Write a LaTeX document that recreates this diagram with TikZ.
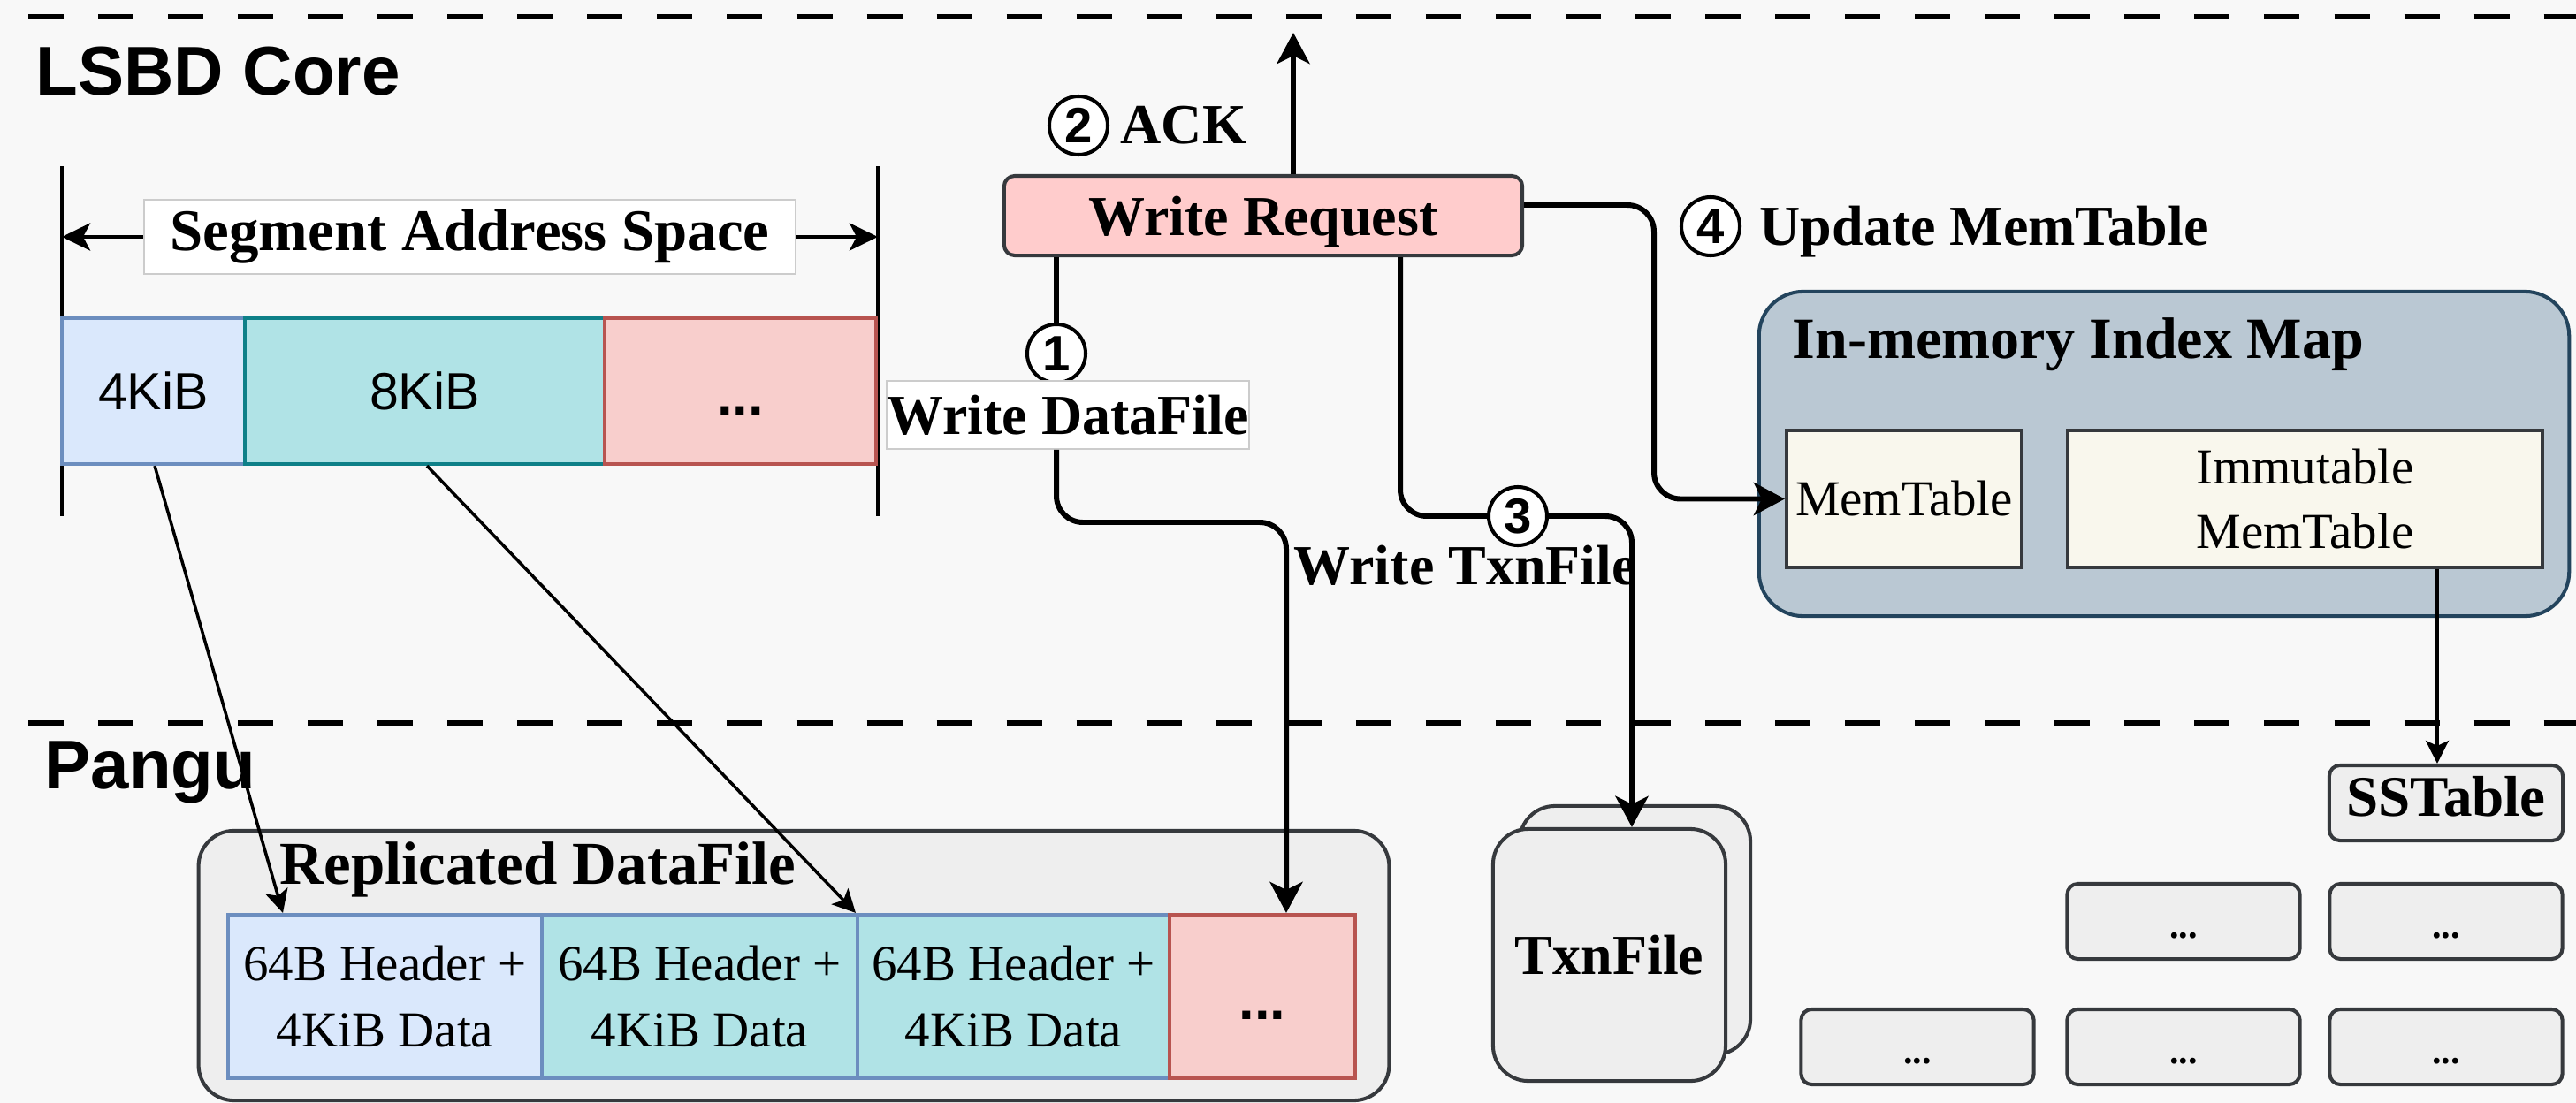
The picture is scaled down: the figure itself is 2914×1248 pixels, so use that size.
\documentclass[tikz,border=0pt]{standalone}
\usepackage{fontspec}
\setmainfont{Liberation Serif}
\newfontfamily\sansfam{Liberation Sans}
\usetikzlibrary{arrows.meta}

\definecolor{bg}{HTML}{F8F8F8}
\definecolor{blueF}{HTML}{DAE8FC}
\definecolor{blueD}{HTML}{6C8EBF}
\definecolor{tealF}{HTML}{B0E3E6}
\definecolor{tealD}{HTML}{0E8088}
\definecolor{redF}{HTML}{F8CECC}
\definecolor{redD}{HTML}{B85450}
\definecolor{pinkF}{HTML}{FFCCCC}
\definecolor{darkD}{HTML}{36393D}
\definecolor{grayF}{HTML}{EEEEEE}
\definecolor{slateF}{HTML}{BAC8D3}
\definecolor{slateD}{HTML}{23445D}
\definecolor{creamF}{HTML}{F9F7ED}
\definecolor{lblD}{HTML}{CCCCCC}

\tikzset{
  heading/.style={font=\sansfam\bfseries\fontsize{22.2pt}{26pt}\selectfont, inner sep=0, anchor=base west},
  blab/.style={font=\bfseries\fontsize{18.2pt}{21pt}\selectfont, inner sep=0},
  sepline/.style={line width=1.7pt, dash pattern=on 0.40cm off 0.39cm},
  bound/.style={line width=1.3pt},
  segcell/.style={line width=1.15pt, inner sep=0, minimum height=1.65cm,
    font=\sansfam\fontsize{16.8pt}{20pt}\selectfont},
  lblbox/.style={fill=white, draw=lblD, line width=0.45pt, inner sep=0,
    font=\bfseries\fontsize{19pt}{22pt}\selectfont},
  wire/.style={line width=1.7pt, rounded corners=0.3cm},
  flow/.style={wire, -{Stealth[length=0.35cm, width=0.37cm, inset=0.09cm]}},
  thinarr/.style={line width=1pt, -{Stealth[length=0.26cm, width=0.26cm, inset=0.06cm]}},
  segarr/.style={line width=1.3pt, -{Stealth[length=0.32cm, width=0.31cm, inset=0.08cm]}},
  num/.style={circle, draw, fill=white, line width=1.15pt, minimum size=0.66cm, inner sep=0,
    font=\sansfam\bfseries\fontsize{16pt}{18pt}\selectfont},
  gbox/.style={fill=grayF, draw=darkD, line width=1.15pt, inner sep=0},
  memcell/.style={fill=creamF, draw=darkD, line width=1.15pt, inner sep=0, minimum height=1.55cm,
    font=\fontsize{16.2pt}{20.5pt}\selectfont},
  repcell/.style={line width=1.15pt, inner sep=0, minimum height=1.85cm, align=center,
    font=\fontsize{16.2pt}{21.3pt}\selectfont},
  smallbox/.style={gbox, rounded corners=0.12cm, minimum width=2.63cm, minimum height=0.85cm,
    text height=0.38cm, text depth=0pt, font=\bfseries\fontsize{12pt}{14pt}\selectfont},
}

\begin{document}
\begin{tikzpicture}[x=0.01cm, y=-0.01cm]
\fill[bg] (0,0) rectangle (2914,1248);
\useasboundingbox (0,0) rectangle (2914,1248);

% layer separators and titles
\draw[sepline] (32,19) -- (2914,19);
\draw[sepline] (32,818) -- (2914,818);
\node[heading] (core) at (40,107) {LSBD Core};
\node[heading] (pangu) at (50,892) {Pangu};

% ---------- segment address space ----------
\coordinate (lt) at (70,188);  \coordinate (lb) at (70,584);
\coordinate (rt) at (993,188); \coordinate (rb) at (993,584);
\draw[bound] (lt) -- (lb);
\draw[bound] (rt) -- (rb);

\node[segcell, fill=blueF, draw=blueD, minimum width=2.07cm] (s4) at (173.5,442.5) {4KiB};
\node[segcell, fill=tealF, draw=tealD, minimum width=4.07cm] (s8) at (480.5,442.5) {8KiB};
\node[segcell, fill=redF, draw=redD, minimum width=3.07cm, text height=0.53cm, text depth=0pt,
  font=\sansfam\bfseries\fontsize{18pt}{20pt}\selectfont] (sd) at (837.5,442.5) {...};

\node[lblbox, minimum width=7.37cm, minimum height=0.84cm] (sas) at (531.5,268) {Segment Address Space};
\draw[segarr] (sas.west) -- (sas.west -| lt);
\draw[segarr] (sas.east) -- (sas.east -| rt);

% ---------- write request ----------
\node[blab, fill=pinkF, draw=darkD, line width=1.15pt, rounded corners=0.12cm,
  minimum width=5.86cm, minimum height=0.9cm, text depth=0pt] (wr) at (1429,244) {Write Request};

\node[num] (n2) at (1220,142) {2};
\node[blab, anchor=base west] (ack) at (1267,162) {ACK};

\node[num] (n1) at (1195,400) {1};
\node[lblbox, font=\bfseries\fontsize{18.2pt}{21pt}\selectfont,
  minimum width=4.10cm, minimum height=0.77cm] (wdf) at (1208,469.5) {Write DataFile};

\node[blab, anchor=base west] (wtx) at (1463,661) {Write TxnFile};
\node[num] (n3) at (1717,584) {3};

\node[num] (n4) at (1935,256) {4};
\node[blab, anchor=base west] (upd) at (1990,277) {Update MemTable};

% ---------- in-memory index map ----------
\node[fill=slateF, draw=slateD, line width=1.15pt, rounded corners=0.5cm, inner sep=0,
  minimum width=9.16cm, minimum height=3.67cm] (imap) at (2448,513.5) {};
\node[blab, font=\bfseries\fontsize{18.8pt}{22pt}\selectfont, anchor=base west] (imapt) at (2027,405) {In-memory Index Map};
\node[memcell, minimum width=2.66cm] (mem) at (2154,564.5) {MemTable};
\node[memcell, minimum width=5.37cm, align=center] (imm) at (2607.5,564.5) {Immutable\\MemTable};

% ---------- pangu: SSTables ----------
\node[gbox, rounded corners=0.12cm, minimum width=2.64cm, minimum height=0.85cm,
  text depth=0.16cm, font=\bfseries\fontsize{18.5pt}{22pt}\selectfont] (sst) at (2767,908.5) {SSTable};
\node[smallbox] (l1a) at (2470,1042.5) {...};
\node[smallbox] (l1b) at (2767,1042.5) {...};
\node[smallbox] (l2a) at (2169,1184.5) {...};
\node[smallbox] (l2b) at (2470,1184.5) {...};
\node[smallbox] (l2c) at (2767,1184.5) {...};

% ---------- pangu: TxnFile ----------
\node[gbox, rounded corners=0.4cm, minimum width=2.61cm, minimum height=2.81cm] (txb) at (1849.5,1052.5) {};
\node[gbox, rounded corners=0.4cm, minimum width=2.63cm, minimum height=2.85cm,
  font=\bfseries\fontsize{18.2pt}{21pt}\selectfont] (txf) at (1820.5,1080.5) {TxnFile};

% ---------- pangu: replicated data file ----------
\node[gbox, rounded corners=0.4cm, minimum width=13.46cm, minimum height=3.05cm] (rep) at (898,1092.5) {};
\node[blab, font=\bfseries\fontsize{19.6pt}{22pt}\selectfont, anchor=base west] (rept) at (316,1000) {Replicated DataFile};
\node[repcell, fill=blueF, draw=blueD, minimum width=3.55cm] (rc1) at (435.5,1127.5) {64B Header +\\4KiB Data};
\node[repcell, fill=tealF, draw=blueD, minimum width=3.57cm] (rc2) at (791.5,1127.5) {64B Header +\\4KiB Data};
\node[repcell, fill=tealF, draw=blueD, minimum width=3.53cm] (rc3) at (1146.5,1127.5) {64B Header +\\4KiB Data};
\node[repcell, fill=redF, draw=redD, minimum width=2.10cm, text height=0.52cm, text depth=0pt,
  font=\sansfam\bfseries\fontsize{18pt}{20pt}\selectfont] (rcd) at (1428,1127.5) {...};

% ---------- connectors ----------
% step 2: acknowledgement
\coordinate (ackx) at (1463,37);
\draw[flow] (wr.north -| ackx) -- (ackx);

% step 1: data file
\coordinate (k1) at (1455,591);
\draw[wire] (wr.south -| n1) -- (n1.north);
\draw[flow] (wdf.south -| n1) |- (k1) -- (k1 |- rcd.north);

% step 3: transaction file
\coordinate (k3a) at (1584,584);
\coordinate (k3b) at (1846,584);
\draw[wire] (wr.south -| k3a) -- (k3a) -- (n3.west);
\draw[flow] (n3.east) -- (k3b) -- (k3b |- txf.north);

% step 4: memtable update
\coordinate (k4) at (1871,232);
\draw[flow] (wr.east |- k4) -- (k4) |- (mem.west);

% flush to SSTable
\coordinate (sx) at (2757,0);
\draw[thinarr] (imm.south -| sx) -- (sst.north -| sx);

% segment to data file blocks
\coordinate (a1) at (175,0); \coordinate (b1) at (320,0);
\coordinate (a2) at (483,0); \coordinate (b2) at (968,0);
\draw[thinarr] (s4.south -| a1) -- (rc1.north -| b1);
\draw[thinarr] (s8.south -| a2) -- (rc2.north -| b2);
\end{tikzpicture}
\end{document}
